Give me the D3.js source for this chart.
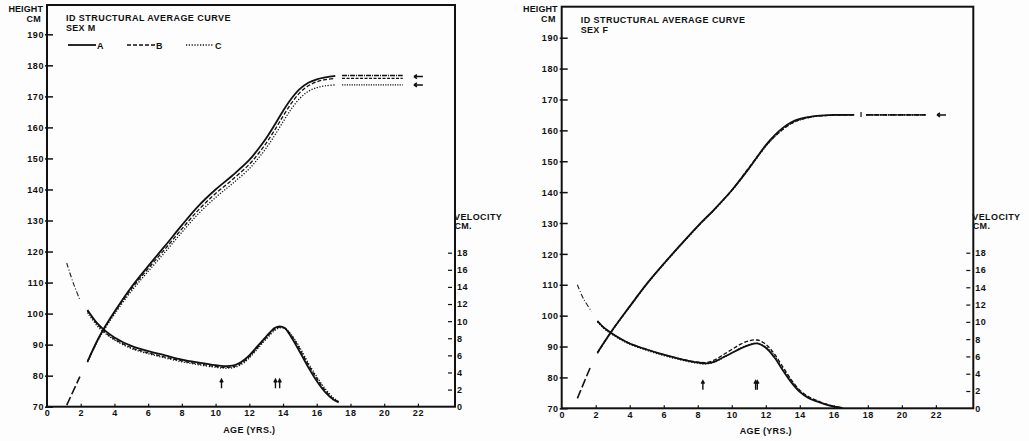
<!DOCTYPE html>
<html>
<head>
<meta charset="utf-8">
<script src="https://cdn.jsdelivr.net/npm/d3@7"></script>
<style>
body { margin: 0; background-color: #fdfdfd; }
text { font-family: 'Liberation Sans', Arial, sans-serif; font-weight: bold; fill: #111; }
</style>
</head>
<body>

<svg id='chart'></svg>

<script>
// tick labels
var ageTicks = [0, 2, 4, 6, 8, 10, 12, 14, 16, 18, 20, 22];
var heightTicks = [70, 80, 90, 100, 110, 120, 130, 140, 150, 160, 170, 180, 190];
var velocityTicks = [0, 2, 4, 6, 8, 10, 12, 14, 16, 18];
var seriesNames = ['A', 'B', 'C'];

// males
var maleEarlyAge = [1.17, 1.95];
var maleEarlyHeight = [70.5, 79.7];
var maleEarlyVAge = [1.17, 1.55, 1.95];
var maleEarlyVelocity = [16.8, 14.5, 12.5];

var maleHAge = [2.4, 3, 3.5, 4, 5, 6, 7, 8, 9, 10, 11, 12, 12.6, 13, 13.5, 14, 14.5, 15, 15.5, 16, 16.5, 17.1];
var maleHeightA = [84.5, 91.5, 96.3, 100.6, 108.5, 115.3, 121.8, 128.5, 134.8, 140.0, 144.5, 149.5, 153.5, 156.5, 160.8, 165.3, 169.3, 172.4, 174.4, 175.5, 176.1, 176.6];
var maleHeightB = [84.5, 91.4, 96.1, 100.3, 107.9, 114.5, 120.8, 127.3, 133.5, 138.7, 143.2, 148.1, 152.0, 154.9, 159.1, 163.6, 167.8, 171.2, 173.4, 174.7, 175.4, 175.8];
var maleHeightC = [84.3, 91.1, 95.7, 99.8, 107.2, 113.6, 119.8, 126.2, 132.3, 137.4, 141.9, 146.7, 150.5, 153.3, 157.4, 161.8, 166.0, 169.4, 171.6, 172.8, 173.4, 173.7];

var maleAdultAge = [17.5, 21.1];
var maleAdultHeight = [176.7, 175.8, 173.7];
var maleMarkerAge = 22;
var maleMarkerHeight = [176.4, 173.7];

var maleVAge = [2.4, 3, 3.5, 4, 5, 6, 7, 8, 9, 10, 10.5, 11, 11.5, 12, 12.5, 13, 13.5, 13.8, 14.1, 14.5, 15, 15.5, 16, 16.5, 17, 17.3];
var maleVelocityA = [11.3, 9.7, 8.8, 8.1, 7.1, 6.5, 6.0, 5.5, 5.15, 4.85, 4.75, 4.8, 5.2, 6.0, 7.1, 8.2, 9.2, 9.4, 9.2, 8.1, 6.4, 4.6, 3.0, 1.7, 0.8, 0.5];
var maleVelocityB = [11.2, 9.6, 8.6, 7.9, 6.9, 6.3, 5.8, 5.35, 5.0, 4.7, 4.6, 4.65, 5.05, 5.85, 6.95, 8.05, 9.05, 9.3, 9.2, 8.3, 6.7, 4.9, 3.3, 1.9, 0.9, 0.55];
var maleVelocityC = [11.0, 9.4, 8.5, 7.8, 6.8, 6.2, 5.7, 5.25, 4.9, 4.6, 4.5, 4.55, 4.9, 5.7, 6.8, 7.9, 8.9, 9.2, 9.15, 8.4, 6.9, 5.1, 3.5, 2.1, 1.0, 0.6];
var maleArrowAge = [10.35, 13.55, 13.8];

// females
var femaleEarlyAge = [0.92, 1.7];
var femaleEarlyHeight = [73.2, 83.5];
var femaleEarlyVAge = [0.92, 1.3, 1.76];
var femaleEarlyVelocity = [14.3, 12.6, 11.2];

var femaleHAge = [2.1, 3, 4, 5, 6, 7, 8, 9, 10, 11, 12, 12.5, 13, 13.5, 14, 14.5, 15, 16, 17.2];
var femaleHeightA = [88, 95.5, 103, 110.3, 116.8, 123, 129, 134.6, 140.6, 147.6, 155.2, 158.3, 160.8, 162.6, 163.7, 164.3, 164.7, 165, 165];
var femaleHeightB = [88, 95.5, 103, 110.3, 116.8, 123, 128.9, 134.5, 140.6, 147.9, 155.0, 157.9, 160.3, 162.2, 163.4, 164.1, 164.6, 164.9, 165];
var femaleHeightC = [87.8, 95.3, 102.8, 110.1, 116.6, 122.8, 128.8, 134.4, 140.4, 147.5, 154.8, 157.8, 160.3, 162.2, 163.4, 164.1, 164.6, 164.9, 165];

var femaleAdultAge = [17.9, 21.4];
var femaleAdultHeight = [165, 165, 165];
var femaleTickAge = 17.6;
var femaleMarkerAge = 22.3;
var femaleMarkerHeight = [165];

var femaleVAge = [2.1, 2.5, 3, 3.5, 4, 5, 6, 7, 8, 8.5, 9, 9.5, 10, 10.5, 11, 11.5, 12, 12.5, 13, 13.5, 14, 14.5, 15, 15.5, 16, 16.5];
var femaleVelocityA = [10.1, 9.3, 8.6, 8.0, 7.5, 6.8, 6.2, 5.7, 5.3, 5.2, 5.4, 5.9, 6.4, 6.9, 7.3, 7.5, 7.0, 5.9, 4.4, 3.0, 1.9, 1.2, 0.8, 0.45, 0.2, 0.05];
var femaleVelocityB = [10.1, 9.3, 8.6, 8.0, 7.5, 6.8, 6.2, 5.7, 5.35, 5.3, 5.6, 6.2, 6.8, 7.4, 7.8, 7.9, 7.4, 6.3, 4.8, 3.3, 2.1, 1.35, 0.9, 0.5, 0.25, 0.05];
var femaleVelocityC = [10.0, 9.2, 8.5, 7.9, 7.4, 6.7, 6.1, 5.6, 5.2, 5.15, 5.35, 5.85, 6.4, 6.95, 7.35, 7.5, 7.1, 6.1, 4.6, 3.2, 2.0, 1.3, 0.85, 0.5, 0.22, 0.05];
var femaleArrowAge = [8.3, 11.4, 11.5];

var dims = {
	width: 1029,
	height: 441,
	ageMax: 24.2,
	font: '9px'
};

var panels = [
	{
		left: 47, top: 5, right: 455, bottom: 406.7, h190: 34.3, v18: 252.7, sex: 'M', legend: true,
		earlyAge: maleEarlyAge, earlyHeight: maleEarlyHeight, earlyVAge: maleEarlyVAge, earlyVelocity: maleEarlyVelocity,
		hAge: maleHAge, heights: [maleHeightA, maleHeightB, maleHeightC],
		vAge: maleVAge, velocities: [maleVelocityA, maleVelocityB, maleVelocityC],
		adultAge: maleAdultAge, adultHeight: maleAdultHeight, markerAge: maleMarkerAge, markerHeight: maleMarkerHeight,
		arrows: maleArrowAge, tickAge: null
	},
	{
		left: 561.7, top: 6.7, right: 973.3, bottom: 408.3, h190: 37.7, v18: 252.7, sex: 'F', legend: false,
		earlyAge: femaleEarlyAge, earlyHeight: femaleEarlyHeight, earlyVAge: femaleEarlyVAge, earlyVelocity: femaleEarlyVelocity,
		hAge: femaleHAge, heights: [femaleHeightA, femaleHeightB, femaleHeightC],
		vAge: femaleVAge, velocities: [femaleVelocityA, femaleVelocityB, femaleVelocityC],
		adultAge: femaleAdultAge, adultHeight: femaleAdultHeight, markerAge: femaleMarkerAge, markerHeight: femaleMarkerHeight,
		arrows: femaleArrowAge, tickAge: femaleTickAge
	}
];

var styles = [
	{ width: 1.8, dash: null },
	{ width: 1.3, dash: '4,2' },
	{ width: 1.3, dash: '1.2,1.6' }
];

var svg = d3.select('#chart').attr('width', dims.width).attr('height', dims.height);
svg.append('rect').attr('width', dims.width).attr('height', dims.height).attr('fill', '#fdfdfd');

function label(g, x, y, s, anchor, spacing) {
	return g.append('text')
		.attr('x', x).attr('y', y)
		.attr('text-anchor', anchor || 'start')
		.attr('font-size', dims.font)
		.attr('letter-spacing', spacing || 0)
		.text(s);
}

function drawPanel(p) {
	var x = d3.scaleLinear().domain([0, dims.ageMax]).range([p.left, p.right]);
	var yH = d3.scaleLinear().domain([70, 190]).range([p.bottom, p.h190]);
	var yV = d3.scaleLinear().domain([0, 18]).range([p.bottom, p.v18]);
	var g = svg.append('g');

	// frame
	g.append('rect')
		.attr('x', p.left).attr('y', p.top)
		.attr('width', p.right - p.left).attr('height', p.bottom - p.top)
		.attr('fill', 'none').attr('stroke', '#111').attr('stroke-width', 2);

	// height axis
	var hAxis = g.append('g')
		.attr('transform', 'translate(' + p.left + ',0)')
		.call(d3.axisLeft(yH).tickValues(heightTicks).tickSize(-6).tickPadding(3).tickFormat(d3.format('d')));
	hAxis.select('.domain').remove();
	hAxis.selectAll('line').attr('stroke', '#111').attr('stroke-width', 1.5).attr('x1', -2);
	hAxis.selectAll('text').attr('font-size', dims.font).attr('font-family', null).attr('fill', '#111')
		.attr('letter-spacing', 0.6).attr('dy', '0.35em');

	// age axis
	var aAxis = g.append('g')
		.attr('transform', 'translate(0,' + p.bottom + ')')
		.call(d3.axisBottom(x).tickValues(ageTicks).tickSize(-3).tickPadding(4));
	aAxis.select('.domain').remove();
	aAxis.selectAll('line').attr('stroke', '#111').attr('stroke-width', 1.2);
	aAxis.selectAll('.tick').filter(d => d == 0).select('line').remove();
	aAxis.selectAll('text').attr('font-size', dims.font).attr('font-family', null).attr('fill', '#111')
		.attr('letter-spacing', 0.6).attr('y', 3).attr('dy', '0.71em');

	// velocity axis
	var vAxis = g.append('g')
		.attr('transform', 'translate(' + p.right + ',0)')
		.call(d3.axisRight(yV).tickValues(velocityTicks).tickSize(-5).tickPadding(3));
	vAxis.select('.domain').remove();
	vAxis.selectAll('line').attr('stroke', '#111').attr('stroke-width', 1.2).attr('x2', -3).attr('x1', -7);
	vAxis.selectAll('.tick').filter(d => d == 0).select('line').remove();
	vAxis.selectAll('text').attr('font-size', dims.font).attr('font-family', null).attr('fill', '#111')
		.attr('letter-spacing', 0.5).attr('x', 2);

	label(g, p.right - 1, yV(18) - 33, 'VELOCITY', 'start', 0.4);
	label(g, p.right - 0.5, yV(18) - 24, 'CM.', 'start', 0.3);

	label(g, p.left - 4, 12, 'HEIGHT', 'end', 0.1);
	label(g, p.left - 6, 22, 'CM', 'end', 0.3);

	label(g, x(12), p.bottom + 26, 'AGE (YRS.)', 'middle', 0.3);

	label(g, p.left + 19, p.top + 16, 'ID STRUCTURAL AVERAGE CURVE', 'start', 0.45);
	label(g, p.left + 19, p.top + 26, 'SEX ' + p.sex, 'start', 0.3);

	if (p.legend) {
		drawLegend(g, p);
	}

	var line = d3.line().curve(d3.curveCatmullRom.alpha(0.5));

	// extrapolated early parts
	g.append('path')
		.attr('d', line(p.earlyAge.map((a, i) => [x(a), yH(p.earlyHeight[i])])))
		.attr('fill', 'none').attr('stroke', '#111').attr('stroke-width', 1.6).attr('stroke-dasharray', '9,3');
	g.append('path')
		.attr('d', line(p.earlyVAge.map((a, i) => [x(a), yV(p.earlyVelocity[i])])))
		.attr('fill', 'none').attr('stroke', '#222').attr('stroke-width', 1.1).attr('stroke-dasharray', '5,2,1,2');

	// height curves
	p.heights.forEach(function(h, k) {
		g.append('path')
			.attr('d', line(p.hAge.map((a, i) => [x(a), yH(h[i])])))
			.attr('fill', 'none').attr('stroke', '#111')
			.attr('stroke-width', styles[k].width)
			.attr('stroke-dasharray', styles[k].dash);
	});

	// velocity curves
	p.velocities.forEach(function(v, k) {
		g.append('path')
			.attr('d', line(p.vAge.map((a, i) => [x(a), yV(v[i])])))
			.attr('fill', 'none').attr('stroke', '#111')
			.attr('stroke-width', styles[k].width)
			.attr('stroke-dasharray', styles[k].dash);
	});

	// adult plateau
	p.adultHeight.forEach(function(h, k) {
		g.append('line')
			.attr('x1', x(p.adultAge[0])).attr('x2', x(p.adultAge[1]))
			.attr('y1', yH(h)).attr('y2', yH(h))
			.attr('stroke', '#111')
			.attr('stroke-width', k == 0 ? 1.6 : 1.2)
			.attr('stroke-dasharray', k == 0 ? '5,1,1,1' : (k == 1 ? '3,1.5' : '1.2,1.2'));
	});

	if (p.tickAge != null) {
		g.append('line')
			.attr('x1', x(p.tickAge)).attr('x2', x(p.tickAge))
			.attr('y1', yH(p.adultHeight[0]) - 3).attr('y2', yH(p.adultHeight[0]) + 2)
			.attr('stroke', '#111').attr('stroke-width', 1.2);
	}

	// end markers
	p.markerHeight.forEach(function(h) {
		var mx = x(p.markerAge), my = yH(h);
		g.append('path')
			.attr('d', 'M' + (mx - 4) + ',' + my + 'L' + (mx + 5) + ',' + my +
				'M' + (mx - 4) + ',' + my + 'L' + (mx - 1) + ',' + (my - 2) +
				'M' + (mx - 4) + ',' + my + 'L' + (mx - 1) + ',' + (my + 2))
			.attr('fill', 'none').attr('stroke', '#111').attr('stroke-width', 1.5);
	});

	// peak arrows
	p.arrows.forEach(function(a) {
		var ax = x(a), ay = yV(3.2);
		g.append('path')
			.attr('d', 'M' + ax + ',' + (ay + 9) + 'L' + ax + ',' + ay +
				'M' + (ax - 1.6) + ',' + (ay + 3) + 'L' + ax + ',' + ay + 'L' + (ax + 1.6) + ',' + (ay + 3))
			.attr('fill', 'none').attr('stroke', '#111').attr('stroke-width', 1.4);
	});
}

function drawLegend(g, p) {
	var lx = p.left + 21, ly = p.top + 40;
	seriesNames.forEach(function(name, k) {
		var ox = lx + k * 59;
		g.append('line')
			.attr('x1', ox).attr('x2', ox + 28)
			.attr('y1', ly).attr('y2', ly)
			.attr('stroke', '#111')
			.attr('stroke-width', styles[k].width)
			.attr('stroke-dasharray', styles[k].dash);
		label(g, ox + 29, ly + 3.5, name);
	});
}

panels.forEach(p => drawPanel(p));
</script>

</body>
</html>
